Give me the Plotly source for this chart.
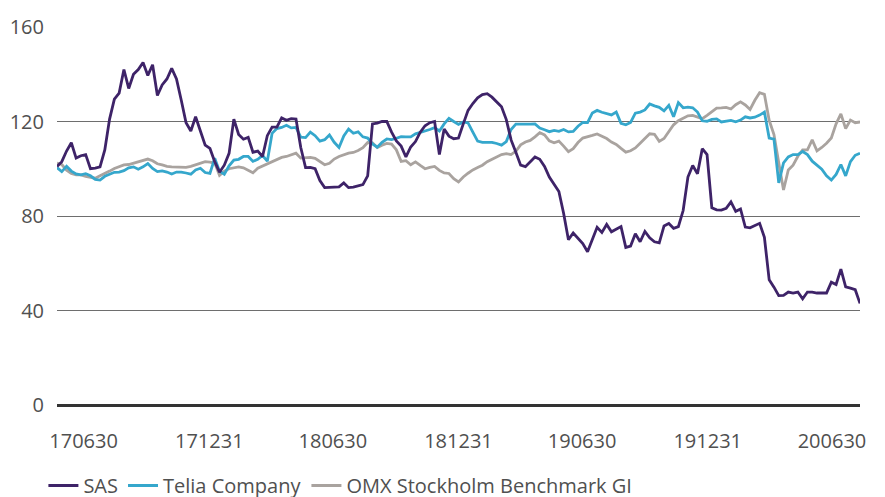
import pandas as pd
import plotly.graph_objects as go

# Weekly observations (index = 100)
dates = pd.date_range("2017-05-22", periods=169, freq="7D")

sas = [
    101, 103, 107.5, 111, 104.5, 105.5, 106, 100, 100.3, 100.8,
    108, 121, 129.5, 132, 142, 134, 140, 142, 145, 139.5,
    144, 131, 135.5, 138, 142.5, 138, 129, 119.5, 116, 122,
    116, 110, 108.6, 103, 98.5, 101.5, 106.5, 121, 114.5, 112.5,
    113.3, 107, 107.5, 105.2, 114, 117.6, 117.6, 121.5, 120.5, 121.2,
    121, 109, 100.5, 100.6, 100, 95, 92, 92, 92, 92.3,
    94, 92, 92.2, 92.6, 93.3, 97, 119, 119.3, 120, 120,
    115.5, 111.8, 109.6, 105, 109.2, 111.5, 115.5, 118.2, 119.5, 120,
    106, 116.8, 113.8, 112.7, 113, 119, 124.7, 127.6, 130, 131.4,
    131.8, 130.3, 128.4, 126.2, 120.8, 112.2, 107, 101.5, 100.9, 103,
    105, 104, 101, 96.5, 93.5, 90.4, 81.1, 70, 72.8, 70.6,
    68.3, 64.9, 69.7, 75.2, 73, 76.4, 73.3, 74.3, 75.5, 66.7,
    67.3, 72.5, 69.1, 73.5, 70.8, 69.1, 68.6, 75.8, 76.8, 74.8,
    75.5, 82.3, 96.5, 101.4, 97.9, 108.5, 106, 83.5, 82.6, 82.5,
    83.2, 86, 82, 83, 75.3, 75, 76, 76.9, 71, 53,
    49.9, 46.3, 46.4, 47.8, 47.4, 47.8, 44.9, 47.8, 47.8, 47.4,
    47.4, 47.4, 52, 51, 57.5, 50, 49.5, 48.8, 43,
]

telia = [
    100.5, 98.8, 101, 99, 97.8, 97.4, 97.9, 97, 95.5, 95.2,
    96.8, 97.7, 98.5, 98.6, 99.2, 100.4, 100.8, 99.8, 100.8, 102.2,
    100.1, 98.8, 99.1, 98.6, 97.8, 98.6, 98.6, 98.2, 97.7, 99.5,
    100.2, 98.4, 98, 104.5, 99, 97.7, 101.2, 103.7, 104, 105.2,
    105.2, 103.1, 104, 105.6, 103.2, 115, 117, 117.5, 118.4, 117.3,
    117.5, 113.4, 113.2, 115.5, 114, 111.7, 112.3, 114.3, 111.2, 109,
    113.9, 116.8, 115, 115.6, 113.5, 113, 110.5, 109.1, 111.2, 112.6,
    112.3, 112.9, 113.6, 113.5, 113.5, 114.8, 115.3, 115.8, 116.6, 117.4,
    116, 119, 121.3, 120, 118.8, 119.8, 119.4, 115.5, 111.7, 111.2,
    111.1, 111.2, 110.7, 110, 111.5, 116.6, 118.9, 118.8, 119, 118.9,
    119, 117.2, 116.5, 115.7, 116.2, 115.8, 116.6, 115.6, 115.8, 118,
    119.6, 119.5, 123.6, 124.7, 123.9, 123.2, 122.8, 124, 119.2, 118.6,
    119.6, 123.5, 124, 124.9, 127.4, 126.6, 126, 124.5, 126.8, 122,
    128, 125.8, 126.1, 125.8, 124, 120.3, 120.1, 120.9, 121.1, 119.8,
    120, 120.5, 119.9, 120.6, 122, 121.5, 121.8, 122.7, 124, 113,
    112.5, 94, 102.5, 105, 106, 106, 107.3, 106, 103.2, 101.5,
    99.8, 97, 95.2, 97.6, 101.8, 97, 103, 105.7, 106.6,
]

omx = [
    102.4, 101.8, 99.4, 98, 97.4, 97.4, 96.8, 96.3, 96, 97,
    97.9, 99, 100.1, 101, 101.6, 101.8, 102.4, 102.8, 103.4, 104.1,
    103.4, 102.1, 101.6, 101, 100.8, 100.7, 100.4, 100.6, 101, 101.7,
    102.6, 103, 102.8, 102.4, 97.2, 99, 100, 100.4, 100.8, 100.4,
    99.3, 98.3, 100.2, 101.1, 102, 103, 104.1, 104.8, 105.2, 106,
    106.6, 104.5, 104.5, 104.8, 104.4, 103.1, 101.7, 102.3, 104.1, 105.2,
    106, 106.6, 106.9, 107.7, 108.9, 111.1, 111, 109, 110, 110.7,
    110.4, 108, 103.1, 103.4, 101.7, 102.9, 101.4, 100, 100.6, 101,
    99.3, 98.2, 98, 95.8, 94.4, 96.5, 98.1, 99.5, 100.5, 101.5,
    103, 104, 104.9, 106, 106.4, 106, 107.4, 110.1, 111.3, 112,
    113.5, 115.3, 114.3, 111.8, 111, 111.7, 109.6, 107.2, 108.5, 111.1,
    113, 113.7, 114.1, 114.7, 113.8, 112.8, 111.3, 110.3, 108.6, 107,
    107.6, 108.8, 110.8, 113, 114.8, 114.6, 111.6, 112.8, 115.5, 118.6,
    120.3, 121.4, 122.4, 122.6, 122, 121.2, 122.6, 124.2, 125.7, 125.8,
    126, 125.3, 127.1, 128.3, 127, 125.1, 129, 132.2, 131.5, 120.5,
    114.5, 102.5, 91, 99.5, 101.5, 105.3, 108, 108, 112.2, 107.6,
    109, 110.8, 113, 119, 123.2, 117, 120.6, 119.5, 119.8,
]

tick_dates = ["2017-06-30", "2017-12-31", "2018-06-30", "2018-12-31",
              "2019-06-30", "2019-12-31", "2020-06-30"]
tick_labels = ["170630", "171231", "180630", "181231", "190630", "191231", "200630"]
y_ticks = [0, 40, 80, 120, 160]

FONT = "Open Sans, Noto Sans, sans-serif"
TXT = "#505050"

fig = go.Figure()
fig.add_trace(go.Scatter(x=dates, y=omx, name="OMX Stockholm Benchmark GI", mode="lines",
                         line=dict(color="#a9a39f", width=2.8)))
fig.add_trace(go.Scatter(x=dates, y=telia, name="Telia Company", mode="lines",
                         line=dict(color="#35a7cc", width=2.8)))
fig.add_trace(go.Scatter(x=dates, y=sas, name="SAS", mode="lines",
                         line=dict(color="#3e2368", width=2.8)))

fig.update_layout(
    width=885, height=497,
    margin=dict(l=49, r=33, t=19, b=100, autoexpand=False),
    paper_bgcolor="white", plot_bgcolor="white",
    font=dict(family=FONT, size=20, color=TXT),
    showlegend=True,
    legend=dict(orientation="h", traceorder="reversed",
                xref="container", yref="container",
                x=0.040, y=0.0, xanchor="left", yanchor="bottom",
                font=dict(size=20, color=TXT), itemwidth=30,
                bgcolor="rgba(0,0,0,0)"),
)
fig.update_xaxes(
    type="date", range=[dates[0], dates[-1]], automargin=False,
    tickmode="array", tickvals=tick_dates, ticktext=tick_labels,
    showgrid=False, zeroline=False, showline=False, ticks="",
    ticklabelstandoff=22, tickfont=dict(size=20, color=TXT),
)
fig.update_yaxes(
    range=[0, 160], tickmode="array", tickvals=y_ticks, automargin=False,
    showgrid=True, gridcolor="#6e6e6e", gridwidth=1,
    zeroline=True, zerolinecolor="#333333", zerolinewidth=3,
    showline=False, ticks="", ticklabelstandoff=12,
    tickfont=dict(size=20, color=TXT),
)

fig.write_html("out.html")
